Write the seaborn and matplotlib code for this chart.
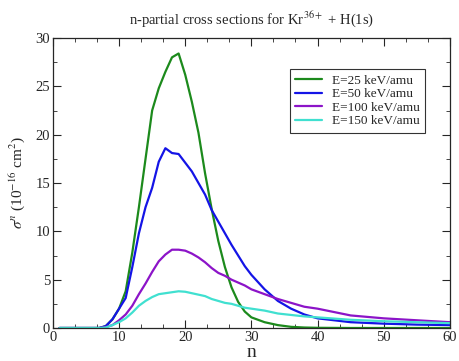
import pandas as pd
import numpy as np

import seaborn as sns
import matplotlib.pyplot as plt
from matplotlib.ticker import MultipleLocator


# n-partial cross sections (units of 1e-16 cm^2)
n = [1, 7, 8, 9, 10, 11, 12, 13, 14, 15, 16, 17, 18, 19, 20, 21, 22, 23, 24, 25,
     26, 27, 28, 29, 30, 32, 34, 36, 38, 40, 45, 50, 55, 60]
e25 = [0, 0, 0.2, 0.9, 2.0, 3.8, 7.8, 12.5, 17.5, 22.5, 24.8, 26.5, 28.0, 28.4, 26.2, 23.4,
       20.2, 16.0, 12.3, 9.0, 6.3, 4.2, 2.7, 1.7, 1.1, 0.6, 0.3, 0.12, 0.05, 0.02, 0, 0, 0, 0]
e50 = [0, 0, 0.2, 0.9, 2.0, 3.1, 6.3, 9.8, 12.5, 14.5, 17.2, 18.6, 18.1, 18.0, 17.1, 16.2,
       15.0, 13.8, 12.2, 11.0, 9.8, 8.6, 7.5, 6.4, 5.5, 4.0, 2.8, 2.0, 1.4, 1.0, 0.6, 0.45, 0.35, 0.3]
e100 = [0, 0, 0.1, 0.3, 0.8, 1.4, 2.3, 3.5, 4.6, 5.8, 6.9, 7.6, 8.1, 8.1, 8.0, 7.7,
        7.3, 6.8, 6.2, 5.7, 5.4, 5.0, 4.7, 4.4, 4.0, 3.5, 3.0, 2.6, 2.2, 2.0, 1.3, 1.0, 0.8, 0.6]
e150 = [0, 0, 0.05, 0.3, 0.6, 1.0, 1.6, 2.3, 2.8, 3.2, 3.5, 3.6, 3.7, 3.8, 3.75, 3.6,
        3.45, 3.3, 3.0, 2.8, 2.6, 2.5, 2.3, 2.1, 2.0, 1.8, 1.5, 1.35, 1.2, 1.1, 0.85, 0.7, 0.6, 0.5]
labels = ['E=25 keV/amu', 'E=50 keV/amu', 'E=100 keV/amu', 'E=150 keV/amu']
colors = ['#1c8a1c', '#1414e6', '#8c14c8', '#40e0d0']

df = pd.concat([
    pd.DataFrame({'n': n, 'sigma': vals, 'E': lab})
    for vals, lab in zip([e25, e50, e100, e150], labels)
])

sns.set_style('ticks')
plt.rcParams['font.family'] = ['Liberation Serif', 'DejaVu Serif']
plt.rcParams['mathtext.fontset'] = 'stix'

fig = plt.figure(figsize=(4.6, 3.61), dpi=100)
ax = fig.add_axes([0.115, 0.0914, 0.863, 0.8033])

sns.lineplot(data=df, x='n', y='sigma', hue='E', palette=colors, linewidth=1.6, ax=ax)

ax.set_xlim(0, 60)
ax.set_ylim(0, 30)
ax.xaxis.set_major_locator(MultipleLocator(10))
ax.xaxis.set_minor_locator(MultipleLocator(10 / 3))
ax.yaxis.set_major_locator(MultipleLocator(5))
ax.yaxis.set_minor_locator(MultipleLocator(2.5))
ax.tick_params(which='both', direction='in', top=True, right=True, labelsize=10.5, pad=2)
ax.tick_params(which='major', length=6)
ax.tick_params(which='minor', length=3)
for s in ax.spines.values():
    s.set_linewidth(0.9)

ax.set_title(r'n-partial cross sections for Kr$^{36+}$ + H(1s)', fontsize=10.5, pad=10)
ax.set_xlabel('n', fontsize=14, labelpad=0)
ax.set_ylabel(r'$\sigma^n$ (10$^{-16}$ cm$^2$)', fontsize=11, labelpad=6)

leg = ax.legend(loc='upper right', bbox_to_anchor=(0.955, 0.915), fontsize=9.5,
                frameon=True, fancybox=False, edgecolor='black', handlelength=2.0,
                borderpad=0.4, labelspacing=0.1)
leg.get_frame().set_linewidth(0.8)

fig.savefig('out.png', dpi=100)
